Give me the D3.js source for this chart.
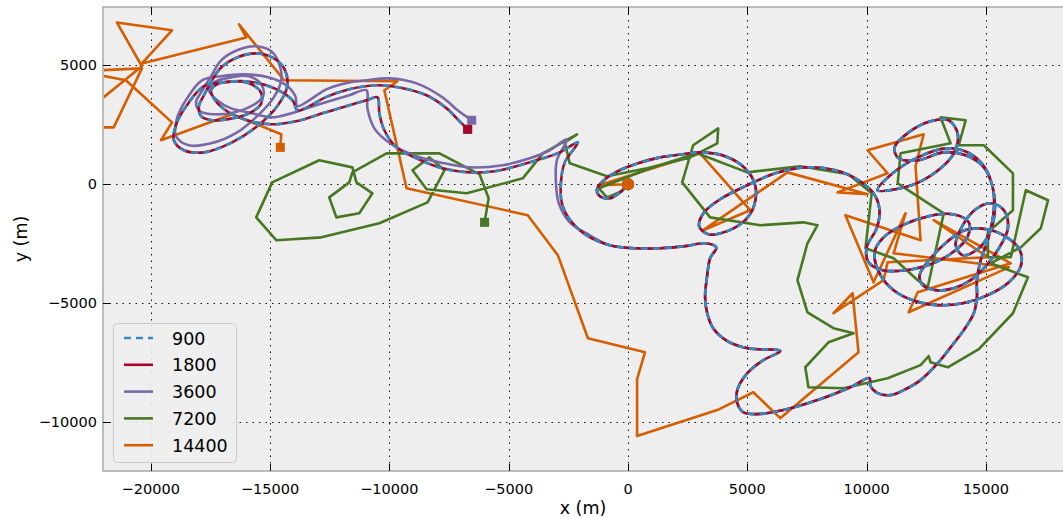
<!DOCTYPE html>
<html>
<head>
<meta charset="utf-8">
<script src="https://cdn.jsdelivr.net/npm/d3@7"></script>
<style>
  body { margin: 0; background: #fff; }
  text { font-family: "DejaVu Sans", sans-serif; }
</style>
</head>
<body>
<div id="chart"></div>
<script>
// sampling intervals (s) shown in the legend
const seriesNames = ['900', '1800', '3600', '7200', '14400'];
const seriesColors = ['#348ABD', '#A60628', '#7A68A6', '#467821', '#D55E00'];

const xTicks = [-20000, -15000, -10000, -5000, 0, 5000, 10000, 15000];
const yTicks = [-10000, -5000, 0, 5000];

// trajectory positions (m)
const track1800 = [
  [0,0],[-340,-340],[-760,-590],[-1180,-500],[-1300,-210],[-1010,170],[-420,550],[420,880],[1340,1130],[2270,1260],
  [3110,1340],[4070,1180],[4910,670],[5330,-40],[5290,-880],[4910,-1510],[4160,-1970],[3360,-2100],[2980,-1760],[3190,-1180],
  [3860,-630],[4910,-80],[6170,460],[7430,710],[8690,590],[9660,170],[10290,-380],[10540,-1090],[10420,-1850],[10000,-2650],
  [10080,-3280],[10670,-3610],[11630,-3610],[12680,-3360],[13610,-2860],[14240,-2180],[14280,-1600],[13610,-1260],[12600,-1340],[11510,-1720],
  [10670,-2270],[10330,-2860],[10580,-3820],[11130,-4450],[11930,-4870],[12980,-5080],[14030,-5000],[15080,-4660],[15960,-4120],[16460,-3440],
  [16420,-2770],[15880,-2230],[15040,-1890],[14110,-1930],[13400,-2390],[12680,-3110],[12220,-3820],[12350,-4240],[12890,-4450],[13650,-4370],
  [14360,-4030],[14990,-3440],[15540,-2690],[15920,-1850],[15750,-1090],[15200,-800],[14570,-1050],[14030,-1720],[13730,-2560],[14030,-2980],
  [14700,-2690],[15200,-1930],[15370,-1090],[15290,-170],[14950,710],[14240,1340],[13310,1510],[12140,1130],[11090,460],[10460,-250],
  [11210,-210],[12180,80],[13100,670],[13650,1300],[13820,2100],[13440,2690],[12680,2650],[11760,2180],[11170,1550],[11340,1090],
  [12180,1010],[13190,1340],[14150,1220],[14910,710],[15290,-170],[15330,-1090],[15080,-2350],[14780,-3190],[14620,-4030],[14620,-4750],
  [14490,-5420],[14070,-6130],[13520,-6850],[12980,-7520],[12260,-8230],[11550,-8650],[11000,-8860],[10460,-8780],[10160,-8480],[10120,-8150],
  [9320,-8530],[7940,-9070],[6510,-9490],[5420,-9660],[4830,-9580],[4580,-9200],[4580,-8650],[5000,-7940],[5670,-7390],[6380,-7010],
  [5000,-6890],[4160,-6590],[3570,-6050],[3320,-5420],[3230,-4750],[3320,-3820],[3440,-3110],[3700,-2650],[3230,-2480],[2390,-2600],
  [1340,-2690],[290,-2690],[-760,-2560],
  [-1680,-2180],[-2390,-1550],[-2770,-800],[-2810,80],[-2650,920],[-2100,1760],[-2860,1340],[-3570,1090],[-4540,800],[-5590,550],
  [-6640,500],[-7770,670],[-8860,1090],[-9700,1550],[-10210,2270],[-10420,2980],[-10500,3650],[-10960,3530],[-11680,3320],[-12810,2980],
  [-13900,2650],[-14950,2520],[-15960,2690],[-16800,3070],[-17300,3530],[-17470,3950],[-17220,4200],[-16550,4330],[-15880,4240],[-15410,3910],
  [-15370,3400],[-15880,2980],[-16590,2770],[-17430,2690],[-17890,2860],[-17980,3280],[-17770,3740],[-17430,4370],[-17050,4910],[-16380,5330],
  [-15580,5500],[-14910,5330],[-14410,4870],[-14280,4120],[-14700,3280],[-15540,2440],[-16590,1760],[-17770,1340],[-18610,1430],[-19030,1850],
  [-18900,2600],[-18400,3440],[-17770,4120],[-16930,4280],[-16090,4330],[-15160,4160],[-14490,3860],[-14030,3490],[-13860,3110],[-13360,3280],
  [-12680,3650],[-11680,3990],[-10540,4160],[-9580,4070],[-8440,3740],[-7600,3190],[-7060,2650],[-6720,2310]
];

// 900 s run lies exactly under the 1800 s run in the picture
const track900 = track1800;

// 3600 s run: same as 1800 s in the east, its own path west of x = -1000
const track3600West = [
  [-1680,-2100],[-2440,-1600],[-2900,-800],[-3020,80],[-2980,1010],[-2560,1890],[-3280,1430],[-4120,1090],[-5250,800],[-6640,710],
  [-7690,880],[-8860,1180],[-9910,1680],[-10630,2350],[-10920,3190],[-10960,3950],[-11680,3740],[-12390,3530],[-13360,3230],[-13990,3020],
  [-14950,2810],[-15880,3020],[-16630,3190],[-17220,3530],[-17560,3950],[-17350,4280],[-16630,4490],[-15880,4540],[-15370,4200],[-15290,3700],
  [-15790,3280],[-16510,3020],[-17350,2940],[-17930,3070],[-18100,3440],[-17890,3860],[-17470,4540],[-17050,5210],[-16380,5630],[-15620,5800],
  [-14950,5590],[-14620,5080],[-14530,4370],[-14870,3610],[-15460,2940],[-16380,2180],[-17470,1720],[-18400,1640],[-18940,2020],[-18900,2770],
  [-18480,3610],[-17850,4370],[-17050,4540],[-16090,4620],[-15040,4490],[-14320,4160],[-13940,3700],[-13860,3280],[-13360,3530],[-12640,3990],
  [-11680,4280],[-10960,4370],[-10000,4450],[-8860,4240],[-7770,3650],[-7140,3110],[-6550,2690]
];
const track3600 = track1800.slice(0, 133).concat(track3600West);

const track7200 = [
  [0,0],[-250,-290],[-880,-550],[-1220,-170],[920,670],[2900,1300],[5000,500],[7220,760],[9240,420],[10210,-380],
  [9950,-2690],[11130,-3110],[12140,-4030],[12560,-4330],[13230,-1220],[11300,40],[11420,1300],[13520,1720],[13100,2810],[14150,2690],
  [13860,1640],[14910,1640],[16130,460],[16130,-1090],[15080,-2020],[15080,-3070],[16040,-3070],[16670,-250],[17600,-670],[17300,-1850],
  [16460,-2650],[15200,-3320],[16760,-3910],[16130,-5420],[14700,-6930],[13400,-7690],[12680,-7480],[12600,-7220],[12260,-7600],[10880,-8150],
  [9030,-8570],[7560,-8530],[7430,-7690],[8400,-6640],[9450,-6260],[8610,-6050],[7520,-5380],[7100,-4030],[7520,-2480],[7940,-1720],
  [7350,-1600],[5540,-1720],[3440,-1390],[2270,80],[2730,1640],[3780,2350],[3740,1720],[2600,1130],[800,670],[-880,340],
  [-2440,880],[-2650,1760],[-2140,2100],[-3570,1300],[-4410,250],[-6760,-380],[-8440,-210],[-9030,590],[-8320,1130],[-7690,590],
  [-8400,-760],[-10420,-1640],[-12850,-2230],[-14740,-2350],[-15580,-1390],[-14910,80],[-12940,1010],[-11550,710],[-11380,80],[-10710,-380],
  [-11260,-1220],[-12220,-1390],[-12520,-550],[-11680,80],[-11550,500],[-10120,1300],[-7900,1300],[-6220,420],[-5840,-590],[-6010,-1600]
];

const track14400 = [
  [0,0],[-1220,-40],[3020,1300],[5120,-1090],[3150,-1930],[6680,500],[10040,-420],[8780,-340],[10880,460],[10040,1430],
  [12390,2100],[12050,760],[12260,-2350],[9110,-1300],[10290,-4120],[11630,-1220],[11130,-2900],[15960,-3490],[11760,-5380],[12140,-4540],
  [16040,-3320],[12810,-1510],[15080,-3070],[10880,-3280],[10710,-4030],[8610,-5420],[9410,-4580],[9660,-7060],[6380,-9830],[5250,-8740],
  [3740,-9490],[380,-10580],[380,-8190],[710,-7060],[-1680,-6470],[-2940,-2980],[-4200,-1300],[-9280,-170],[-10210,3950],[-9660,4330],
  [-14410,4370],[-16300,6720],[-16000,6170],[-20370,5080],[-19110,6470],[-21420,6800],[-20370,4960],[-22810,2980],[-23020,2390],[-21550,2390],
  [-20370,4870],[-23020,4750],[-21040,4370],[-19110,2600],[-19570,1850],[-16590,2940],[-14530,2100],[-14570,1550]
];

const tracks = [track900, track1800, track3600, track7200, track14400];

const width = 1063;
const height = 518;
const plot = { left: 103, top: 7, right: 1064, bottom: 471 };
const lineWidth = 2.6;

const svg = d3.select('#chart')
  .append('svg')
  .attr('width', width)
  .attr('height', height);

const x = d3.scaleLinear().domain([-22000, 18270]).range([plot.left, plot.right]);
const y = d3.scaleLinear().domain([-12050, 7450]).range([plot.bottom, plot.top]);
const fmt = d3.format('d');

svg.append('defs').append('clipPath').attr('id', 'clip')
  .append('rect')
  .attr('x', plot.left).attr('y', plot.top)
  .attr('width', plot.right - plot.left).attr('height', plot.bottom - plot.top);

// axes background
svg.append('rect')
  .attr('x', plot.left).attr('y', plot.top)
  .attr('width', plot.right - plot.left).attr('height', plot.bottom - plot.top)
  .attr('fill', '#eeeeee');

// dotted grid
const grid = svg.append('g').attr('stroke', '#111').attr('stroke-width', 1)
  .attr('stroke-dasharray', '1.5,5');
grid.selectAll('.gx').data(xTicks).enter().append('line')
  .attr('x1', d => Math.round(x(d)) + 0.5).attr('x2', d => Math.round(x(d)) + 0.5)
  .attr('y1', plot.top).attr('y2', plot.bottom);
grid.selectAll('.gy').data(yTicks).enter().append('line')
  .attr('y1', d => Math.round(y(d)) + 0.5).attr('y2', d => Math.round(y(d)) + 0.5)
  .attr('x1', plot.left).attr('x2', plot.right);

// trajectories, coarse runs underneath
const lines = svg.append('g').attr('clip-path', 'url(#clip)');
const smooth = d3.line().x(d => x(d[0])).y(d => y(d[1])).curve(d3.curveCatmullRom.alpha(0.5));
const straight = d3.line().x(d => x(d[0])).y(d => y(d[1]));

[4, 3, 2, 1, 0].forEach(i => {
  lines.append('path')
    .attr('d', (i < 3 ? smooth : straight)(tracks[i]))
    .attr('fill', 'none')
    .attr('stroke', seriesColors[i])
    .attr('stroke-width', lineWidth)
    .attr('stroke-linejoin', 'round')
    .attr('stroke-dasharray', i === 0 ? '7,5' : null);
});

// start circles and end squares
const marks = svg.append('g').attr('clip-path', 'url(#clip)');
tracks.forEach((t, i) => {
  marks.append('circle')
    .attr('cx', x(t[0][0])).attr('cy', y(t[0][1])).attr('r', 6)
    .attr('fill', seriesColors[i]);
});
tracks.forEach((t, i) => {
  const last = t[t.length - 1];
  marks.append('rect')
    .attr('x', x(last[0]) - 4.5).attr('y', y(last[1]) - 4.5)
    .attr('width', 9).attr('height', 9)
    .attr('fill', seriesColors[i]);
});

// frame
svg.append('rect')
  .attr('x', plot.left).attr('y', plot.top)
  .attr('width', plot.right - plot.left).attr('height', plot.bottom - plot.top)
  .attr('fill', 'none').attr('stroke', '#bcbcbc').attr('stroke-width', 2);

// inward ticks
const ticks = svg.append('g').attr('stroke', '#000').attr('stroke-width', 1);
xTicks.forEach(v => {
  const px = Math.round(x(v)) + 0.5;
  ticks.append('line').attr('x1', px).attr('x2', px).attr('y1', plot.bottom).attr('y2', plot.bottom - 7);
  ticks.append('line').attr('x1', px).attr('x2', px).attr('y1', plot.top).attr('y2', plot.top + 7);
});
yTicks.forEach(v => {
  const py = Math.round(y(v)) + 0.5;
  ticks.append('line').attr('y1', py).attr('y2', py).attr('x1', plot.left).attr('x2', plot.left + 7);
});

svg.append('g').selectAll('text').data(xTicks).enter().append('text')
  .attr('x', d => x(d)).attr('y', 494)
  .attr('text-anchor', 'middle')
  .attr('font-size', 14.5)
  .text(d => fmt(d));

svg.append('g').selectAll('text').data(yTicks).enter().append('text')
  .attr('x', 97).attr('y', d => y(d) + 5)
  .attr('text-anchor', 'end')
  .attr('font-size', 14.5)
  .text(d => fmt(d));

svg.append('text')
  .attr('x', (plot.left + 1063) / 2).attr('y', 514)
  .attr('text-anchor', 'middle').attr('font-size', 17.5)
  .text('x (m)');

svg.append('text')
  .attr('transform', `translate(27,${(plot.top + plot.bottom) / 2}) rotate(-90)`)
  .attr('text-anchor', 'middle').attr('font-size', 17.5)
  .text('y (m)');

// legend
const legend = svg.append('g');
legend.append('rect')
  .attr('x', 113.5).attr('y', 323.5).attr('width', 123).attr('height', 139)
  .attr('rx', 4)
  .attr('fill', '#eeeeee').attr('fill-opacity', 0.9)
  .attr('stroke', '#cccccc');
seriesNames.forEach((name, i) => {
  const ly = 338 + i * 26.8;
  legend.append('line')
    .attr('x1', 124).attr('x2', 153).attr('y1', ly).attr('y2', ly)
    .attr('stroke', seriesColors[i]).attr('stroke-width', lineWidth)
    .attr('stroke-dasharray', i === 0 ? '7,5' : null);
  legend.append('text')
    .attr('x', 172).attr('y', ly + 6.5)
    .attr('font-size', 17.5)
    .text(name);
});
</script>
</body>
</html>
